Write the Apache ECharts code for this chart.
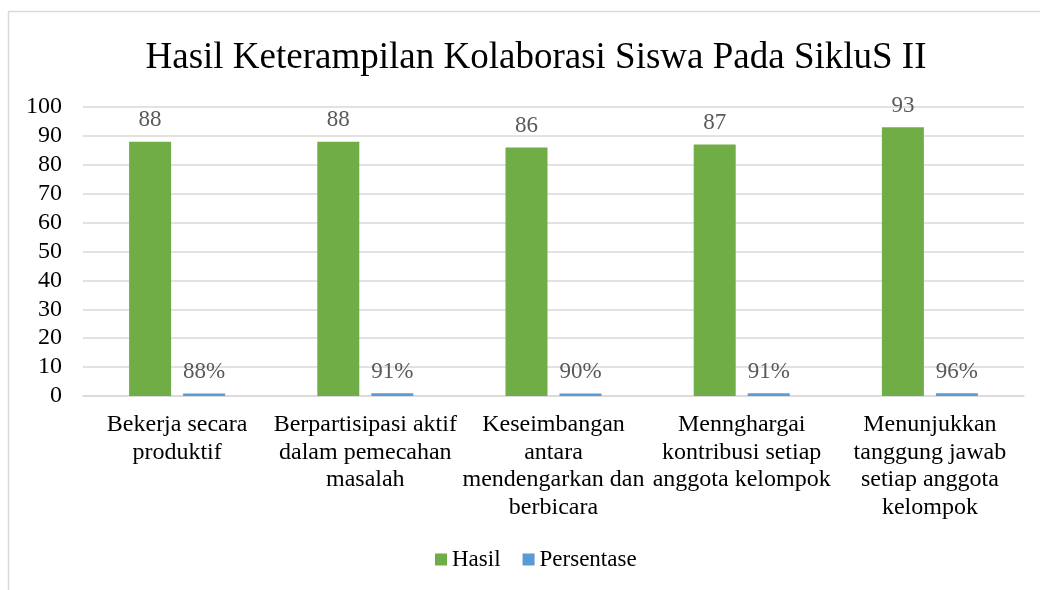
<!DOCTYPE html>
<html>
<head>
<meta charset="utf-8">
<script src="https://cdn.jsdelivr.net/npm/echarts@6/dist/echarts.min.js"></script>
<style>html,body{margin:0;padding:0;background:#fff;}#main{width:1040px;height:590px;}</style>
</head>
<body>
<div id="main"></div>
<script>
var categories = [
  "Bekerja secara\nproduktif",
  "Berpartisipasi aktif\ndalam pemecahan\nmasalah",
  "Keseimbangan\nantara\nmendengarkan dan\nberbicara",
  "Mennghargai\nkontribusi setiap\nanggota kelompok",
  "Menunjukkan\ntanggung jawab\nsetiap anggota\nkelompok"
];
var hasil = [88, 88, 86, 87, 93];
var persentase = [0.88, 0.91, 0.90, 0.91, 0.96];
var yTicks = { min: 0, max: 100, interval: 10 };

var FONT = '"Liberation Serif", "Times New Roman", serif';
var chart = echarts.init(document.getElementById('main'));
chart.setOption({
  animation: false,
  backgroundColor: '#fff',
  textStyle: { fontFamily: FONT },
  graphic: [{
    type: 'rect', shape: { x: 8.5, y: 11.5, width: 1100, height: 700 },
    style: { fill: 'none', stroke: '#d9d9d9', lineWidth: 1.5 }, silent: true
  }],
  title: {
    text: 'Hasil Keterampilan Kolaborasi Siswa Pada SikluS II',
    left: 531, textAlign: 'center', top: 35,
    textStyle: { fontFamily: FONT, fontSize: 37, fontWeight: 'normal', color: '#000' }
  },
  legend: {
    top: 543, left: 430,
    itemWidth: 12, itemHeight: 12, itemGap: 22,
    icon: 'rect',
    textStyle: { fontFamily: FONT, fontSize: 23, color: '#000' },
    data: ['Hasil', 'Persentase']
  },
  grid: { left: 83, right: 16, top: 107, bottom: 194 },
  xAxis: {
    type: 'category', data: categories,
    axisTick: { show: false },
    axisLine: { show: true, lineStyle: { color: '#d9d9d9', width: 1.5 } },
    axisLabel: { fontFamily: FONT, fontSize: 24, color: '#000', lineHeight: 27.5, margin: 15, interval: 0 }
  },
  yAxis: {
    type: 'value', min: yTicks.min, max: yTicks.max, interval: yTicks.interval,
    axisLine: { show: false }, axisTick: { show: false },
    splitLine: { lineStyle: { color: '#d9d9d9', width: 1.5 } },
    axisLabel: { fontFamily: FONT, fontSize: 24, color: '#000', margin: 21 }
  },
  series: [{
    name: 'Hasil', type: 'bar', data: hasil, barWidth: 42, barGap: '28.6%',
    itemStyle: { color: '#70AD47' },
    label: { show: true, position: 'top', distance: 10, fontFamily: FONT, fontSize: 23, color: '#595959' }
  }, {
    name: 'Persentase', type: 'bar', data: persentase, barWidth: 42,
    itemStyle: { color: '#5B9BD5' },
    label: { show: true, position: 'top', distance: 10, fontFamily: FONT, fontSize: 23, color: '#595959',
      formatter: function (p) { return Math.round(p.value * 100) + '%'; } }
  }]
});
</script>
</body>
</html>
